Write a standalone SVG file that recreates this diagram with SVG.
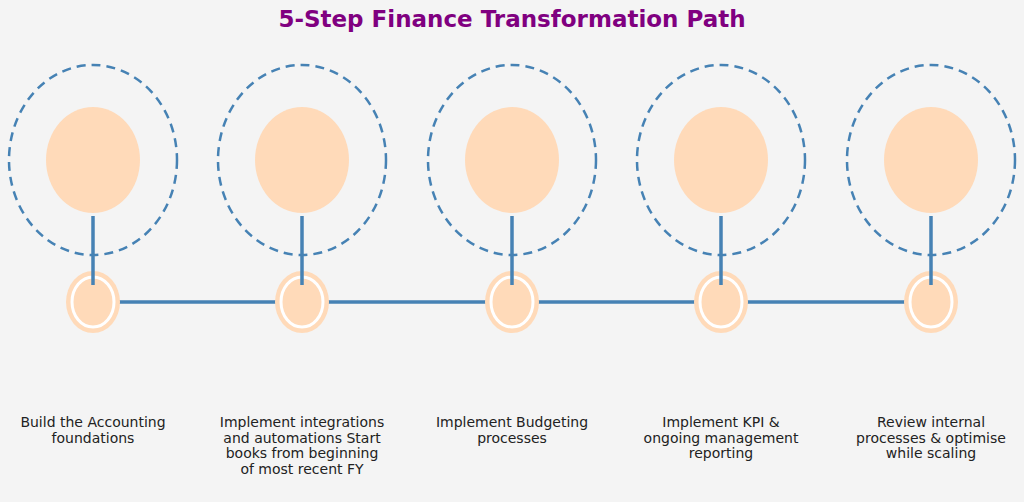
<svg xmlns="http://www.w3.org/2000/svg" width="1024" height="502" viewBox="0 0 1024 502">
<style>
.dash{fill:none;stroke:#4682b4;stroke-width:2.5;stroke-dasharray:9,6}
.big{fill:#ffdab9}
.ring{fill:#ffdab9}
.in{fill:#ffdab9;stroke:#fff;stroke-width:3}
.ln{stroke:#4682b4;stroke-width:3.5;fill:none}
.lab{font-family:"DejaVu Sans",sans-serif;font-size:14px;fill:#222;text-anchor:middle}
</style>
<rect width="1024" height="502" fill="#f4f4f4"/>
<text x="512" y="27" text-anchor="middle" font-family="DejaVu Sans,sans-serif" font-size="23" font-weight="bold" fill="#800080">5-Step Finance Transformation Path</text>
<g id="connectors">
<line class="ln" x1="117" y1="302" x2="278" y2="302"/>
<line class="ln" x1="326" y1="302" x2="488" y2="302"/>
<line class="ln" x1="536" y1="302" x2="697" y2="302"/>
<line class="ln" x1="745" y1="302" x2="907" y2="302"/>
</g>
<g id="node1"><ellipse class="dash" cx="93" cy="160" rx="84" ry="95"/><ellipse class="big" cx="93" cy="160" rx="47" ry="53"/><ellipse class="ring" cx="93" cy="302" rx="27" ry="31"/><ellipse class="in" cx="93" cy="302" rx="21" ry="25"/><line class="ln" x1="93" y1="216" x2="93" y2="285"/>
<text class="lab" x="93" y="427">Build the Accounting</text><text class="lab" x="93" y="443">foundations</text></g>
<g id="node2"><ellipse class="dash" cx="302" cy="160" rx="84" ry="95"/><ellipse class="big" cx="302" cy="160" rx="47" ry="53"/><ellipse class="ring" cx="302" cy="302" rx="27" ry="31"/><ellipse class="in" cx="302" cy="302" rx="21" ry="25"/><line class="ln" x1="302" y1="216" x2="302" y2="285"/>
<text class="lab" x="302" y="427">Implement integrations</text><text class="lab" x="302" y="443">and automations Start</text><text class="lab" x="302" y="458">books from beginning</text><text class="lab" x="302" y="474">of most recent FY</text></g>
<g id="node3"><ellipse class="dash" cx="512" cy="160" rx="84" ry="95"/><ellipse class="big" cx="512" cy="160" rx="47" ry="53"/><ellipse class="ring" cx="512" cy="302" rx="27" ry="31"/><ellipse class="in" cx="512" cy="302" rx="21" ry="25"/><line class="ln" x1="512" y1="216" x2="512" y2="285"/>
<text class="lab" x="512" y="427">Implement Budgeting</text><text class="lab" x="512" y="443">processes</text></g>
<g id="node4"><ellipse class="dash" cx="721" cy="160" rx="84" ry="95"/><ellipse class="big" cx="721" cy="160" rx="47" ry="53"/><ellipse class="ring" cx="721" cy="302" rx="27" ry="31"/><ellipse class="in" cx="721" cy="302" rx="21" ry="25"/><line class="ln" x1="721" y1="216" x2="721" y2="285"/>
<text class="lab" x="721" y="427">Implement KPI &amp;</text><text class="lab" x="721" y="443">ongoing management</text><text class="lab" x="721" y="458">reporting</text></g>
<g id="node5"><ellipse class="dash" cx="931" cy="160" rx="84" ry="95"/><ellipse class="big" cx="931" cy="160" rx="47" ry="53"/><ellipse class="ring" cx="931" cy="302" rx="27" ry="31"/><ellipse class="in" cx="931" cy="302" rx="21" ry="25"/><line class="ln" x1="931" y1="216" x2="931" y2="285"/>
<text class="lab" x="931" y="427">Review internal</text><text class="lab" x="931" y="443">processes &amp; optimise</text><text class="lab" x="931" y="458">while scaling</text></g>
</svg>
